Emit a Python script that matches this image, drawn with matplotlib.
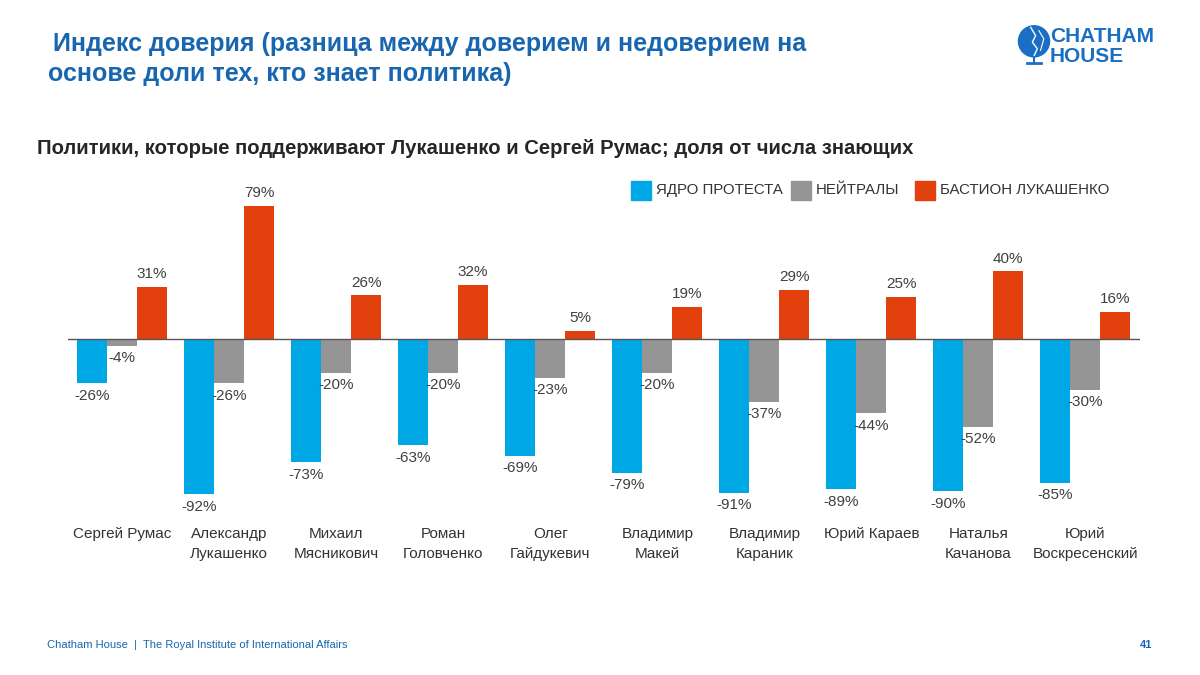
import matplotlib.pyplot as plt
from matplotlib.patches import Circle, Rectangle
import numpy as np

plt.rcParams['font.family'] = ['Liberation Sans', 'DejaVu Sans']

politicians = ["Сергей Румас", "Александр\nЛукашенко", "Михаил\nМясникович", "Роман\nГоловченко",
               "Олег\nГайдукевич", "Владимир\nМакей", "Владимир\nКараник", "Юрий Караев",
               "Наталья\nКачанова", "Юрий\nВоскресенский"]
protest_core = [-26, -92, -73, -63, -69, -79, -91, -89, -90, -85]
neutrals = [-4, -26, -20, -20, -23, -20, -37, -44, -52, -30]
bastion = [31, 79, 26, 32, 5, 19, 29, 25, 40, 16]
series_names = ["ЯДРО ПРОТЕСТА", "НЕЙТРАЛЫ", "БАСТИОН ЛУКАШЕНКО"]

colors = ["#00a7e5", "#959595", "#e2410d"]
blue_text = "#1866b0"

fig = plt.figure(figsize=(12, 6.75), dpi=100)
ax = fig.add_axes([0.0567, 0.2474, 0.8933, 0.4631])

x = np.arange(len(politicians))
w = 0.28
for k, vals in enumerate([protest_core, neutrals, bastion]):
    pos = x + (k - 1) * w
    ax.bar(pos, vals, width=w, color=colors[k], zorder=2)
    for xi, v in zip(pos, vals):
        if v >= 0:
            ax.annotate(f"{v}%", (xi, v), xytext=(0, 4), textcoords="offset points",
                        ha="center", va="bottom", fontsize=11, color="#404040")
        else:
            ax.annotate(f"{v}%", (xi, v), xytext=(0, -4), textcoords="offset points",
                        ha="center", va="top", fontsize=11, color="#404040")

ax.axhline(0, color="#555555", lw=1, zorder=3)
ax.set_xlim(-0.505, 9.51)
ax.set_ylim(-100, 85)
ax.set_yticks([])
ax.set_xticks(x)
ax.set_xticklabels(politicians, fontsize=11, color="#333333", linespacing=1.5)
ax.tick_params(axis="x", length=0, pad=14)
for s in ax.spines.values():
    s.set_visible(False)

# legend drawn manually
lx = [631, 791, 915]
for k in range(3):
    fig.patches.append(Rectangle((lx[k] / 1200, 1 - 200 / 675), 20 / 1200, 19 / 675,
                                 transform=fig.transFigure, color=colors[k]))
    fig.text((lx[k] + 25) / 1200, 1 - 190 / 675, series_names[k], fontsize=10.8,
             color="#333333", va="center", ha="left")

# titles
fig.text(53 / 1200, 1 - 44 / 675, "Индекс доверия (разница между доверием и недоверием на",
         fontsize=18, fontweight="bold", color=blue_text, va="center")
fig.text(48 / 1200, 1 - 74 / 675, "основе доли тех, кто знает политика)",
         fontsize=18, fontweight="bold", color=blue_text, va="center")
fig.text(37 / 1200, 1 - 148 / 675,
         "Политики, которые поддерживают Лукашенко и Сергей Румас; доля от числа знающих",
         fontsize=14.6, fontweight="bold", color="#262626", va="center")

# footer
fig.text(47 / 1200, 1 - 645 / 675, "Chatham House  |  The Royal Institute of International Affairs",
         fontsize=8, color=blue_text, va="center")
fig.text(1152 / 1200, 1 - 645 / 675, "41", fontsize=8, color=blue_text, va="center",
         ha="right", fontweight="bold")

# logo
lax = fig.add_axes([1016 / 1200, 1 - 66 / 675, 36 / 1200, 42 / 675])
lax.set_xlim(-1.1, 1.1)
lax.set_ylim(-1.45, 1.1)
lax.set_aspect("equal")
lax.axis("off")
lax.add_patch(Circle((0, 0.05), 0.95, color="#1a6fc4"))
lax.plot([-0.2, 0.1, -0.1, 0.2, 0.0], [0.9, 0.4, 0.0, -0.4, -0.85], color="white", lw=1)
lax.plot([0.3, 0.6, 0.4], [0.7, 0.2, -0.5], color="white", lw=0.8)
lax.plot([0.0, 0.0], [-0.9, -1.3], color="#1a6fc4", lw=1.5)
lax.plot([-0.45, 0.45], [-1.3, -1.3], color="#1a6fc4", lw=2)
fig.text(1050 / 1200, 1 - 37 / 675, "CHATHAM", fontsize=15, fontweight="bold",
         color="#1a6fc4", va="center")
fig.text(1050 / 1200, 1 - 57 / 675, "HOUSE", fontsize=15, fontweight="bold",
         color="#1a6fc4", va="center")

fig.savefig("out.png", dpi=100)
